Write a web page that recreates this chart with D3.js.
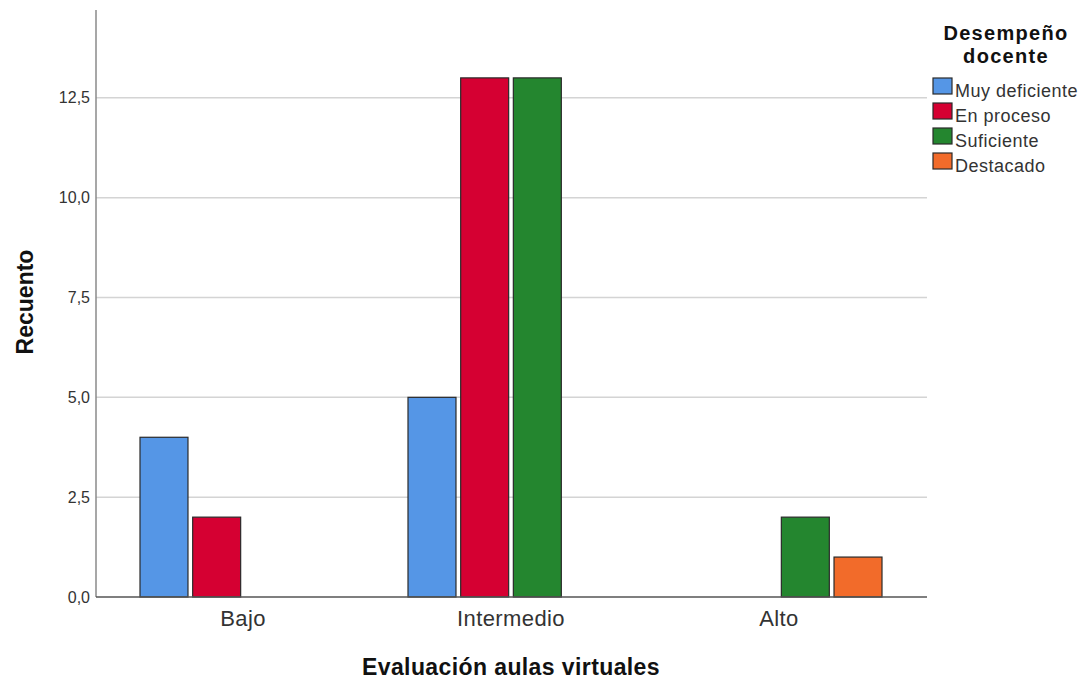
<!DOCTYPE html>
<html><head><meta charset="utf-8">
<script src="https://cdn.jsdelivr.net/npm/d3@7"></script>
<style>body{margin:0;background:#fff;} text{font-family:Arial,"Liberation Sans",sans-serif;}</style>
</head><body>
<svg id="c" width="1085" height="682"></svg>
<script>
const categories = ["Bajo", "Intermedio", "Alto"];
const seriesNames = ["Muy deficiente", "En proceso", "Suficiente", "Destacado"];
const muyDeficiente = [4, 5, 0];
const enProceso = [2, 13, 0];
const suficiente = [0, 13, 2];
const destacado = [0, 0, 1];
const yTicks = [0, 2.5, 5, 7.5, 10, 12.5];
const colors = ["#5596e6", "#d50032", "#24862f", "#f26b2a"];

const values = [muyDeficiente, enProceso, suficiente, destacado];
const svg = d3.select("#c");
const pLeft = 96, pRight = 927, pBottom = 597, pTop = 10;

const y = d3.scaleLinear().domain([0, 14.7]).range([pBottom, pTop]);
const x = d3.scaleBand().domain(categories).range([109, 913]).padding(0);
const x1 = d3.scaleBand().domain(seriesNames).range([-103, 103]).paddingInner(0.089).paddingOuter(0);

// gridlines
svg.append("g").selectAll("line").data(yTicks.filter(d => d > 0)).join("line")
  .attr("x1", pLeft).attr("x2", pRight).attr("y1", d => y(d)).attr("y2", d => y(d))
  .attr("stroke", "#d4d4d4").attr("stroke-width", 1.5);

// y axis
const yAxis = d3.axisLeft(y).tickValues(yTicks).tickSize(0).tickPadding(6)
  .tickFormat(d => d3.format(".1f")(d).replace(".", ","));
const gy = svg.append("g").attr("transform", `translate(${pLeft},0)`).call(yAxis);
gy.select(".domain").remove();
gy.selectAll("text").attr("font-size", 16).attr("fill", "#333");
svg.append("line").attr("x1", pLeft).attr("x2", pLeft).attr("y1", pTop).attr("y2", pBottom)
  .attr("stroke", "#8a8a8a").attr("stroke-width", 1.5);

// bars
const groups = svg.append("g").selectAll("g").data(categories).join("g")
  .attr("transform", d => `translate(${x(d) + x.bandwidth() / 2},0)`);
groups.selectAll("rect").data((c, i) => seriesNames.map((s, j) => ({s, j, v: values[j][i]})).filter(d => d.v > 0))
  .join("rect")
  .attr("x", d => x1(d.s)).attr("width", x1.bandwidth())
  .attr("y", d => y(d.v)).attr("height", d => y(0) - y(d.v))
  .attr("fill", d => colors[d.j]).attr("stroke", "#2a2a2a").attr("stroke-width", 1.2);

// x axis line
svg.append("line").attr("x1", pLeft).attr("x2", pRight).attr("y1", pBottom).attr("y2", pBottom)
  .attr("stroke", "#555").attr("stroke-width", 1.5);
const xAxis = d3.axisBottom(x).tickSize(0).tickPadding(0);
const gx = svg.append("g").attr("transform", `translate(0,${pBottom})`).call(xAxis);
gx.select(".domain").remove();
gx.selectAll("text").attr("dy", null).attr("y", 29).attr("font-size", 22).attr("letter-spacing", 0.4).attr("fill", "#333");

// axis titles
svg.append("text").attr("x", 511).attr("y", 675).attr("text-anchor", "middle")
  .attr("font-size", 23).attr("letter-spacing", 0.4).attr("font-weight", "bold").attr("fill", "#111").text("Evaluación aulas virtuales");
svg.append("text").attr("transform", "translate(33,302) rotate(-90)").attr("text-anchor", "middle")
  .attr("font-size", 23).attr("font-weight", "bold").attr("fill", "#111").text("Recuento");

// legend
svg.append("text").attr("x", 1006).attr("y", 40).attr("text-anchor", "middle")
  .attr("font-size", 20).attr("letter-spacing", 1.3).attr("font-weight", "bold").attr("fill", "#111").text("Desempeño");
svg.append("text").attr("x", 1006).attr("y", 63).attr("text-anchor", "middle")
  .attr("font-size", 20).attr("letter-spacing", 1.3).attr("font-weight", "bold").attr("fill", "#111").text("docente");
const lg = svg.append("g").selectAll("g").data(seriesNames).join("g")
  .attr("transform", (d, i) => `translate(933,${78 + i * 25})`);
lg.append("rect").attr("width", 19).attr("height", 16).attr("fill", (d, i) => colors[i])
  .attr("stroke", "#2a2a2a").attr("stroke-width", 1.2);
lg.append("text").attr("x", 22).attr("y", 19).attr("font-size", 18).attr("letter-spacing", 0.5).attr("fill", "#333").text(d => d);
</script>
</body></html>
